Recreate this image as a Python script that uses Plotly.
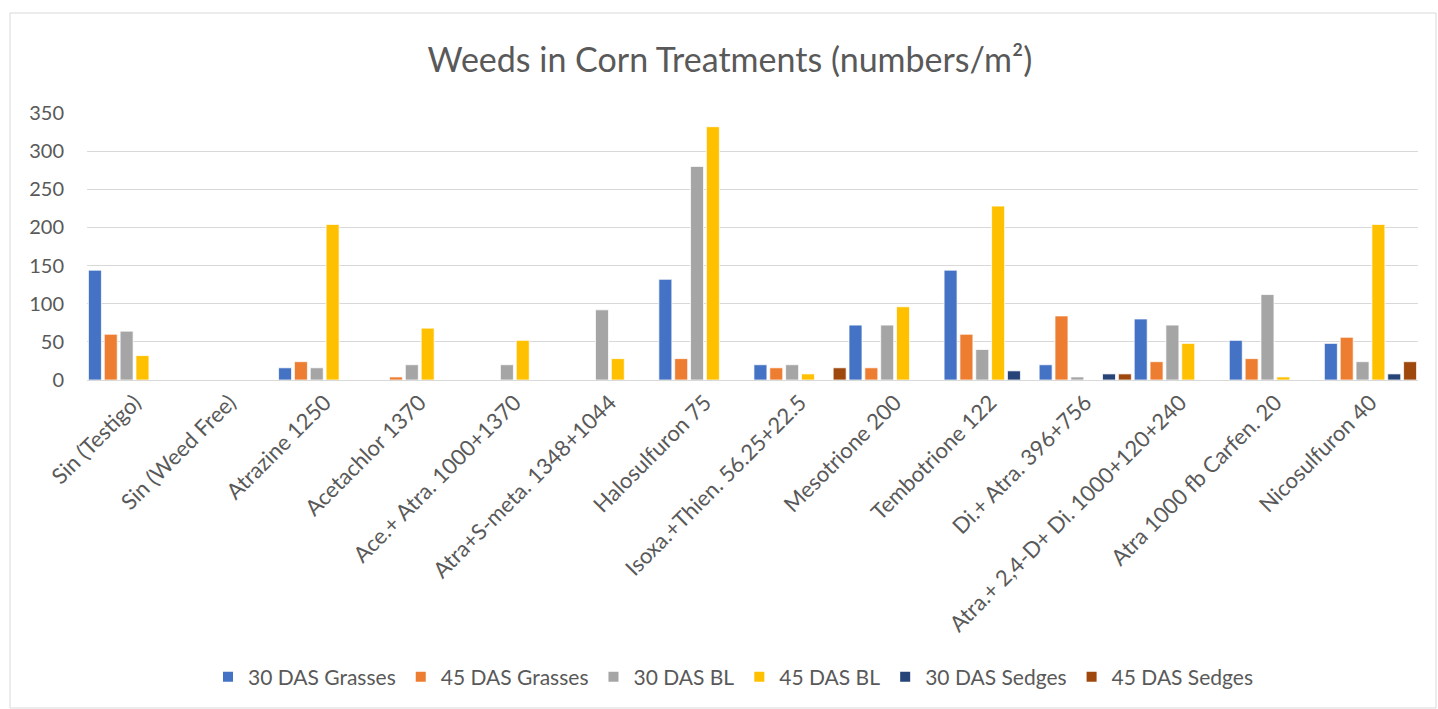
import plotly.graph_objects as go

# Treatments (x categories)
treatments = [
    "Sin (Testigo)", "Sin (Weed Free)", "Atrazine 1250", "Acetachlor 1370",
    "Ace.+ Atra. 1000+1370", "Atra+S-meta. 1348+1044", "Halosulfuron 75",
    "Isoxa.+Thien. 56.25+22.5", "Mesotrione 200", "Tembotrione 122",
    "Di.+ Atra. 396+756", "Atra.+ 2,4-D+ Di. 1000+120+240",
    "Atra 1000 fb Carfen. 20", "Nicosulfuron 40",
]

# Weed counts (numbers/m2) per series
grasses_30 = [144, 0, 16, 0, 0, 0, 132, 20, 72, 144, 20, 80, 52, 48]
grasses_45 = [60, 0, 24, 4, 0, 0, 28, 16, 16, 60, 84, 24, 28, 56]
bl_30 = [64, 0, 16, 20, 20, 92, 280, 20, 72, 40, 4, 72, 112, 24]
bl_45 = [32, 0, 204, 68, 52, 28, 332, 8, 96, 228, 0, 48, 4, 204]
sedges_30 = [0, 0, 0, 0, 0, 0, 0, 0, 0, 12, 8, 0, 0, 8]
sedges_45 = [0, 0, 0, 0, 0, 0, 0, 16, 0, 0, 8, 0, 0, 24]

series_names = ["30 DAS Grasses", "45 DAS Grasses", "30 DAS BL",
                "45 DAS BL", "30 DAS Sedges", "45 DAS Sedges"]
series_values = [grasses_30, grasses_45, bl_30, bl_45, sedges_30, sedges_45]
series_colors = ["#4472C4", "#ED7D31", "#A5A5A5", "#FFC000", "#264478", "#9E480E"]

y_ticks = [0, 50, 100, 150, 200, 250, 300, 350]

TEXT = "#595959"
GRID = "#D9D9D9"
FONT = "Lato"

fig = go.Figure()
for name, vals, col in zip(series_names, series_values, series_colors):
    fig.add_trace(go.Bar(
        name=name, x=treatments, y=vals,
        marker=dict(color=col, line=dict(color="white", width=0.75)),
    ))

W, H = 1438, 709
L, R, T, B = 87, 20, 113, 329
pw, ph = W - L - R, H - T - B

fig.update_layout(
    width=W, height=H,
    margin=dict(l=L, r=R, t=T, b=B),
    paper_bgcolor="white", plot_bgcolor="white",
    barmode="group", bargap=0.0, bargroupgap=0.18,
    font=dict(family=FONT, color=TEXT, size=21),
    title=dict(
        text="Weeds in Corn Treatments (numbers/m²)",
        font=dict(family=FONT, size=34, color=TEXT, weight=400),
        x=730 / W, xref="container", xanchor="center",
        y=1 - 60 / H, yref="container", yanchor="middle",
    ),
    xaxis=dict(
        tickangle=-45, showgrid=False, showline=True, linecolor=GRID,
        linewidth=1, ticks="", tickfont=dict(size=22, color=TEXT),
    ),
    yaxis=dict(
        range=[0, 350], tickvals=y_ticks, showgrid=True, gridcolor=GRID,
        gridwidth=1, zeroline=False, showline=False, ticks="",
        tickfont=dict(size=20, color=TEXT), ticklabelstandoff=22,
    ),
    legend=dict(
        orientation="h", xref="container", x=733 / W, xanchor="center",
        yref="container", y=1 - 677 / H, yanchor="middle",
        font=dict(size=21, color=TEXT), itemsizing="constant",
        traceorder="normal",
    ),
    showlegend=True,
    shapes=[dict(
        type="rect", xref="paper", yref="paper",
        x0=(10 - L) / pw, x1=(1436 - L) / pw,
        y0=-(H - 1 - (H - B)) / ph, y1=1 + (T - 13) / ph,
        line=dict(color=GRID, width=1), fillcolor="rgba(0,0,0,0)",
        layer="below",
    )],
)

fig.write_html("out.html")
